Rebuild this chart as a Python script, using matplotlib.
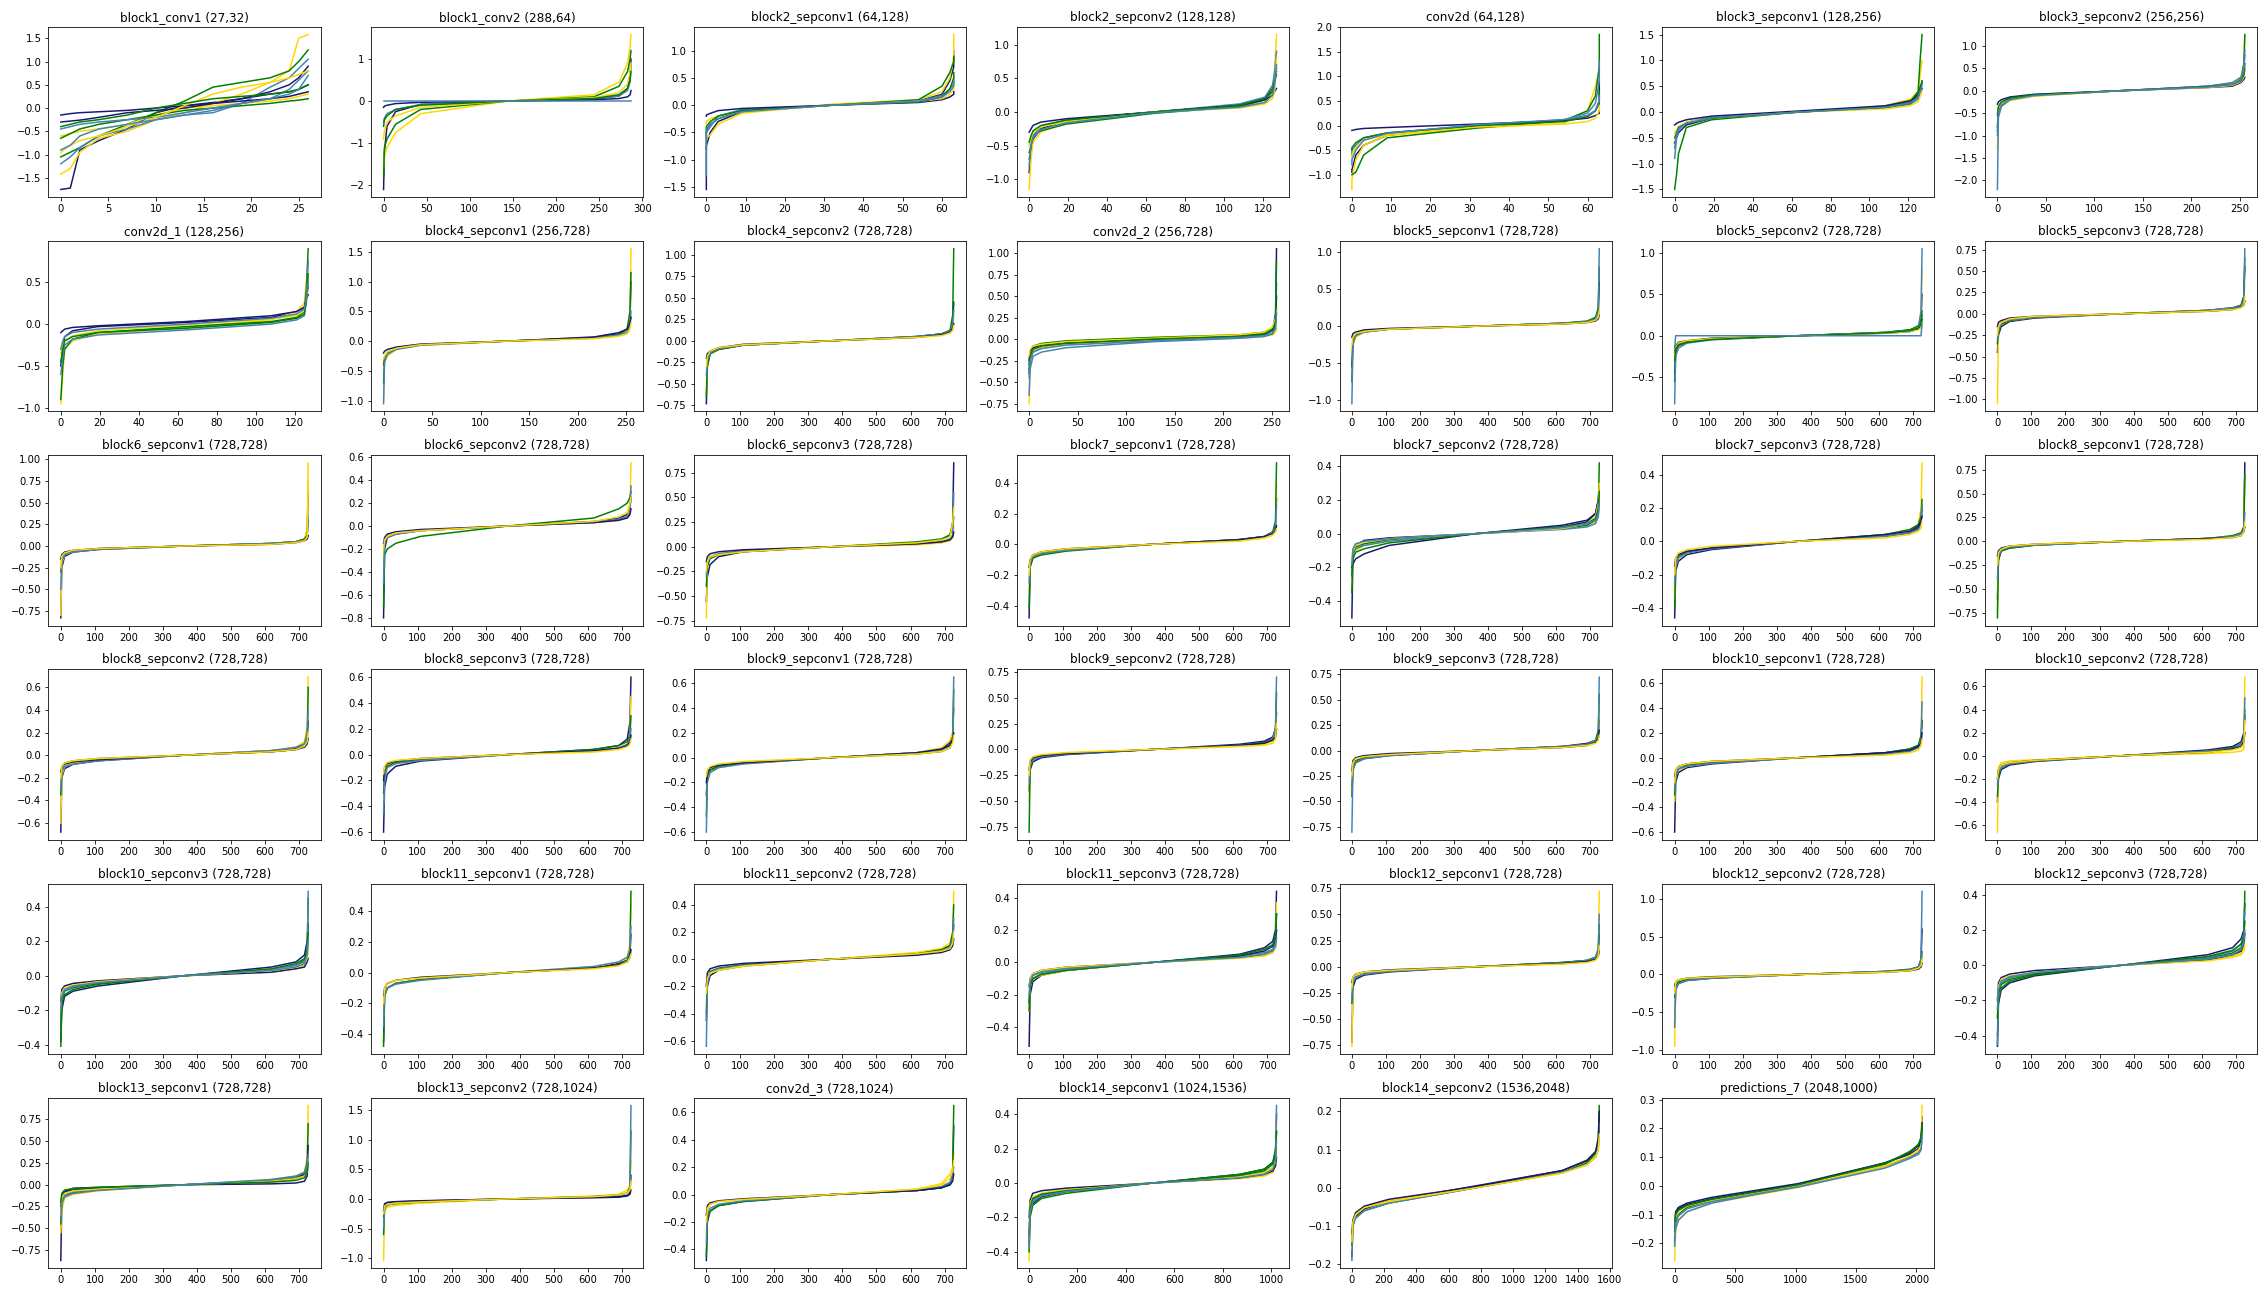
import numpy as np
import matplotlib
matplotlib.use("Agg")
import matplotlib.pyplot as plt

# sorted kernel values per output channel, sampled at a few ranks
# rank positions as a fraction of the input size
knot_frac = [0, 0.004, 0.015, 0.05, 0.15, 0.5, 0.85, 0.95, 0.985, 0.996, 1.0]
# block1_conv1 has only 27 inputs, so its knots are plain indices
conv1_knots = [0, 1, 2, 4, 7, 10, 13, 16, 19, 22, 24, 25, 26]

line_colors = ['midnightblue', 'gold', 'green', 'steelblue']

layer_names = [
    'block1_conv1', 'block1_conv2', 'block2_sepconv1', 'block2_sepconv2', 'conv2d',
    'block3_sepconv1', 'block3_sepconv2',
    'conv2d_1', 'block4_sepconv1', 'block4_sepconv2', 'conv2d_2', 'block5_sepconv1',
    'block5_sepconv2', 'block5_sepconv3',
    'block6_sepconv1', 'block6_sepconv2', 'block6_sepconv3', 'block7_sepconv1',
    'block7_sepconv2', 'block7_sepconv3', 'block8_sepconv1',
    'block8_sepconv2', 'block8_sepconv3', 'block9_sepconv1', 'block9_sepconv2',
    'block9_sepconv3', 'block10_sepconv1', 'block10_sepconv2',
    'block10_sepconv3', 'block11_sepconv1', 'block11_sepconv2', 'block11_sepconv3',
    'block12_sepconv1', 'block12_sepconv2', 'block12_sepconv3',
    'block13_sepconv1', 'block13_sepconv2', 'conv2d_3', 'block14_sepconv1',
    'block14_sepconv2', 'predictions_7',
]
layer_shapes = [
    (27, 32), (288, 64), (64, 128), (128, 128), (64, 128), (128, 256), (256, 256),
    (128, 256), (256, 728), (728, 728), (256, 728), (728, 728), (728, 728), (728, 728),
    (728, 728), (728, 728), (728, 728), (728, 728), (728, 728), (728, 728), (728, 728),
    (728, 728), (728, 728), (728, 728), (728, 728), (728, 728), (728, 728), (728, 728),
    (728, 728), (728, 728), (728, 728), (728, 728), (728, 728), (728, 728), (728, 728),
    (728, 728), (728, 1024), (728, 1024), (1024, 1536), (1536, 2048), (2048, 1000),
]

block1_conv1 = [
    [-1.75, -1.72, -0.9, -0.7, -0.45, -0.1, 0.05, 0.12, 0.2, 0.3, 0.35, 0.4, 0.5],
    [-1.42, -1.3, -0.95, -0.65, -0.5, -0.25, -0.1, 0.1, 0.3, 0.55, 0.8, 1.5, 1.58],
    [-1.05, -0.95, -0.85, -0.6, -0.35, -0.1, 0.15, 0.45, 0.55, 0.65, 0.8, 1.0, 1.25],
    [-1.2, -1.05, -0.85, -0.6, -0.45, -0.25, -0.15, -0.1, 0.1, 0.45, 0.65, 0.85, 1.05],
    [-0.15, -0.12, -0.1, -0.08, -0.05, 0.0, 0.05, 0.1, 0.15, 0.2, 0.25, 0.3, 0.35],
    [-0.6, -0.55, -0.5, -0.45, -0.35, -0.15, 0.0, 0.05, 0.1, 0.15, 0.2, 0.25, 0.3],
    [-0.65, -0.55, -0.45, -0.35, -0.25, -0.15, -0.05, 0.0, 0.05, 0.1, 0.15, 0.17, 0.2],
    [-0.45, -0.4, -0.35, -0.3, -0.25, -0.2, -0.1, 0.0, 0.1, 0.2, 0.4, 0.6, 0.8],
    [-0.3, -0.28, -0.26, -0.2, -0.1, -0.05, 0.0, 0.1, 0.2, 0.35, 0.5, 0.65, 0.9],
    [-0.95, -0.8, -0.7, -0.6, -0.4, -0.2, 0.05, 0.3, 0.45, 0.55, 0.65, 0.72, 0.8],
    [-0.4, -0.35, -0.3, -0.25, -0.15, 0.0, 0.1, 0.2, 0.25, 0.3, 0.35, 0.4, 0.5],
    [-0.9, -0.8, -0.6, -0.45, -0.35, -0.25, -0.15, -0.05, 0.1, 0.2, 0.3, 0.4, 0.7],
]
block1_conv2 = [
    [-2.1, -1.2, -0.6, -0.25, -0.08, 0.0, 0.05, 0.12, 0.3, 0.6, 1.0],
    [-1.6, -1.3, -1.1, -0.75, -0.3, 0.0, 0.15, 0.45, 0.9, 1.3, 1.58],
    [-1.8, -1.1, -0.9, -0.55, -0.2, 0.0, 0.1, 0.35, 0.7, 1.0, 1.2],
    [-0.5, -0.4, -0.3, -0.2, -0.08, 0.0, 0.05, 0.12, 0.25, 0.45, 0.9],
    [-0.15, -0.12, -0.1, -0.06, -0.03, 0.0, 0.03, 0.06, 0.1, 0.15, 0.25],
    [-0.9, -0.7, -0.5, -0.35, -0.15, 0.0, 0.08, 0.2, 0.4, 0.7, 0.9],
    [-0.6, -0.45, -0.35, -0.2, -0.1, 0.0, 0.06, 0.15, 0.3, 0.5, 0.7],
    [0.0, 0.0, 0.0, 0.0, 0.0, 0.0, 0.0, 0.0, 0.0, 0.0, 0.0],
]
block2_sepconv1 = [
    [-1.55, -0.75, -0.5, -0.3, -0.12, 0.0, 0.08, 0.2, 0.45, 0.7, 1.0],
    [-0.7, -0.6, -0.55, -0.35, -0.15, 0.02, 0.1, 0.25, 0.5, 0.9, 1.3],
    [-0.8, -0.5, -0.35, -0.25, -0.1, 0.0, 0.1, 0.35, 0.6, 0.8, 0.9],
    [-1.3, -0.5, -0.4, -0.2, -0.08, 0.0, 0.08, 0.18, 0.3, 0.4, 0.5],
    [-0.2, -0.18, -0.15, -0.1, -0.06, 0.0, 0.05, 0.1, 0.15, 0.2, 0.25],
    [-0.35, -0.3, -0.25, -0.2, -0.12, 0.0, 0.07, 0.12, 0.2, 0.3, 0.4],
    [-0.5, -0.4, -0.3, -0.2, -0.1, 0.0, 0.06, 0.15, 0.3, 0.5, 0.6],
    [-0.6, -0.45, -0.35, -0.25, -0.12, 0.0, 0.07, 0.15, 0.25, 0.35, 0.45],
]
block2_sepconv2 = [
    [-0.9, -0.55, -0.4, -0.25, -0.12, 0.0, 0.1, 0.2, 0.35, 0.5, 0.6],
    [-1.15, -0.7, -0.45, -0.3, -0.15, 0.0, 0.08, 0.15, 0.3, 0.6, 1.15],
    [-0.6, -0.5, -0.35, -0.28, -0.18, -0.02, 0.08, 0.18, 0.35, 0.5, 0.65],
    [-0.8, -0.45, -0.35, -0.22, -0.12, 0.0, 0.12, 0.22, 0.4, 0.6, 0.9],
    [-0.3, -0.25, -0.2, -0.15, -0.1, 0.0, 0.1, 0.18, 0.25, 0.3, 0.35],
    [-0.5, -0.4, -0.3, -0.22, -0.14, 0.0, 0.06, 0.12, 0.2, 0.3, 0.8],
    [-0.45, -0.35, -0.28, -0.2, -0.12, 0.0, 0.1, 0.2, 0.3, 0.45, 0.55],
    [-0.7, -0.5, -0.38, -0.26, -0.16, -0.01, 0.07, 0.14, 0.25, 0.4, 0.7],
]
conv2d = [
    [-0.95, -0.9, -0.6, -0.4, -0.2, 0.0, 0.1, 0.2, 0.3, 0.5, 0.9],
    [-1.3, -1.1, -0.7, -0.4, -0.2, -0.05, 0.05, 0.3, 0.8, 1.1, 1.2],
    [-1.0, -1.0, -0.95, -0.6, -0.25, -0.05, 0.1, 0.3, 0.6, 1.2, 1.85],
    [-0.6, -0.5, -0.4, -0.25, -0.15, 0.0, 0.12, 0.25, 0.45, 0.9, 1.3],
    [-0.1, -0.1, -0.08, -0.06, -0.04, 0.03, 0.1, 0.15, 0.2, 0.25, 0.3],
    [-0.7, -0.6, -0.45, -0.3, -0.18, -0.03, 0.03, 0.08, 0.15, 0.3, 0.55],
    [-0.5, -0.45, -0.35, -0.25, -0.15, 0.0, 0.08, 0.18, 0.3, 0.45, 0.7],
    [-0.8, -0.7, -0.5, -0.3, -0.16, 0.02, 0.12, 0.2, 0.3, 0.5, 0.6],
]
block3_sepconv1 = [
    [-0.6, -0.5, -0.4, -0.25, -0.12, 0.0, 0.1, 0.2, 0.35, 0.5, 0.55],
    [-0.55, -0.4, -0.3, -0.2, -0.1, 0.0, 0.12, 0.25, 0.4, 0.7, 1.0],
    [-1.5, -1.2, -0.8, -0.3, -0.15, 0.0, 0.1, 0.2, 0.4, 1.0, 1.5],
    [-0.9, -0.5, -0.35, -0.2, -0.1, 0.0, 0.08, 0.15, 0.25, 0.4, 0.6],
    [-0.25, -0.22, -0.2, -0.15, -0.08, 0.02, 0.12, 0.22, 0.3, 0.4, 0.45],
    [-0.4, -0.35, -0.28, -0.2, -0.12, 0.0, 0.06, 0.12, 0.2, 0.3, 0.4],
    [-0.5, -0.4, -0.3, -0.22, -0.12, 0.0, 0.09, 0.17, 0.3, 0.45, 0.6],
    [-0.7, -0.45, -0.32, -0.22, -0.11, 0.0, 0.09, 0.18, 0.28, 0.4, 0.5],
]
block3_sepconv2 = [
    [-0.8, -0.4, -0.3, -0.18, -0.1, 0.0, 0.1, 0.15, 0.25, 0.4, 0.6],
    [-1.3, -0.55, -0.35, -0.22, -0.12, 0.0, 0.08, 0.15, 0.3, 0.6, 1.2],
    [-0.9, -0.45, -0.3, -0.2, -0.1, 0.0, 0.08, 0.12, 0.25, 0.6, 1.25],
    [-2.2, -0.6, -0.35, -0.2, -0.1, 0.0, 0.1, 0.18, 0.3, 0.5, 0.9],
    [-0.3, -0.25, -0.2, -0.14, -0.08, 0.0, 0.07, 0.1, 0.18, 0.25, 0.3],
    [-0.5, -0.4, -0.3, -0.2, -0.12, 0.0, 0.07, 0.12, 0.2, 0.3, 0.45],
    [-0.55, -0.35, -0.25, -0.16, -0.09, 0.0, 0.09, 0.14, 0.22, 0.35, 0.5],
    [-1.0, -0.5, -0.32, -0.2, -0.11, 0.0, 0.08, 0.14, 0.24, 0.45, 0.8],
]
conv2d_1 = [
    [-0.5, -0.3, -0.15, -0.08, -0.03, 0.02, 0.08, 0.15, 0.2, 0.3, 0.45],
    [-0.95, -0.6, -0.3, -0.2, -0.12, -0.04, 0.05, 0.15, 0.25, 0.5, 0.7],
    [-0.9, -0.5, -0.3, -0.18, -0.1, -0.03, 0.03, 0.08, 0.15, 0.4, 0.9],
    [-0.6, -0.4, -0.25, -0.18, -0.13, -0.07, 0.0, 0.05, 0.1, 0.3, 0.75],
    [-0.1, -0.08, -0.06, -0.04, -0.02, 0.03, 0.1, 0.15, 0.2, 0.3, 0.35],
    [-0.35, -0.25, -0.2, -0.14, -0.08, -0.01, 0.06, 0.1, 0.16, 0.25, 0.55],
    [-0.45, -0.3, -0.2, -0.15, -0.1, -0.05, 0.02, 0.07, 0.12, 0.25, 0.6],
    [-0.3, -0.2, -0.15, -0.1, -0.06, 0.0, 0.07, 0.12, 0.18, 0.3, 0.5],
]
block4_sepconv1 = [
    [-0.4, -0.3, -0.2, -0.12, -0.06, 0.0, 0.06, 0.12, 0.2, 0.35, 1.0],
    [-1.0, -0.35, -0.25, -0.14, -0.07, 0.0, 0.05, 0.1, 0.18, 0.4, 1.55],
    [-0.7, -0.3, -0.2, -0.12, -0.06, 0.0, 0.05, 0.1, 0.2, 0.5, 1.15],
    [-1.05, -0.35, -0.22, -0.14, -0.07, 0.0, 0.05, 0.1, 0.15, 0.25, 0.5],
    [-0.2, -0.17, -0.14, -0.1, -0.05, 0.0, 0.07, 0.14, 0.2, 0.3, 0.4],
    [-0.3, -0.25, -0.18, -0.12, -0.06, 0.0, 0.04, 0.08, 0.12, 0.2, 0.3],
]
block4_sepconv2 = [
    [-0.73, -0.3, -0.15, -0.1, -0.05, 0.0, 0.05, 0.08, 0.12, 0.2, 0.45],
    [-0.6, -0.25, -0.14, -0.09, -0.05, 0.0, 0.04, 0.07, 0.1, 0.15, 0.3],
    [-0.65, -0.28, -0.15, -0.1, -0.05, 0.0, 0.05, 0.08, 0.12, 0.3, 1.07],
    [-0.4, -0.22, -0.14, -0.09, -0.05, 0.0, 0.05, 0.08, 0.12, 0.2, 0.35],
    [-0.2, -0.15, -0.12, -0.08, -0.04, 0.0, 0.04, 0.07, 0.1, 0.15, 0.2],
    [-0.3, -0.18, -0.12, -0.08, -0.045, 0.0, 0.04, 0.06, 0.09, 0.12, 0.18],
]
conv2d_2 = [
    [-0.4, -0.25, -0.15, -0.1, -0.06, -0.02, 0.02, 0.05, 0.1, 0.3, 1.05],
    [-0.75, -0.3, -0.15, -0.1, -0.06, -0.01, 0.01, 0.03, 0.05, 0.08, 0.12],
    [-0.3, -0.15, -0.08, -0.05, -0.02, 0.02, 0.05, 0.08, 0.12, 0.2, 0.35],
    [-0.65, -0.35, -0.2, -0.15, -0.1, -0.03, 0.01, 0.03, 0.06, 0.15, 0.65],
    [-0.25, -0.15, -0.1, -0.07, -0.04, 0.0, 0.04, 0.06, 0.1, 0.2, 0.5],
    [-0.2, -0.12, -0.08, -0.06, -0.03, 0.01, 0.05, 0.08, 0.14, 0.25, 0.35],
    [-0.35, -0.2, -0.12, -0.08, -0.05, 0.0, 0.03, 0.06, 0.1, 0.2, 0.9],
    [-0.45, -0.25, -0.15, -0.11, -0.07, -0.02, 0.02, 0.04, 0.07, 0.12, 0.3],
]
block5_sepconv1 = [
    [-0.55, -0.2, -0.12, -0.08, -0.04, 0.0, 0.04, 0.06, 0.1, 0.2, 0.6],
    [-0.35, -0.25, -0.15, -0.08, -0.04, 0.0, 0.03, 0.05, 0.08, 0.15, 0.3],
    [-0.75, -0.2, -0.1, -0.07, -0.04, 0.0, 0.04, 0.07, 0.12, 0.25, 0.8],
    [-1.05, -0.25, -0.13, -0.08, -0.04, 0.0, 0.04, 0.06, 0.1, 0.2, 1.05],
    [-0.15, -0.1, -0.08, -0.05, -0.03, 0.0, 0.03, 0.05, 0.07, 0.1, 0.15],
    [-0.25, -0.15, -0.1, -0.07, -0.04, 0.0, 0.03, 0.05, 0.08, 0.12, 0.2],
]
block5_sepconv2 = [
    [-0.45, -0.2, -0.12, -0.08, -0.04, 0.0, 0.04, 0.07, 0.1, 0.2, 0.5],
    [-0.3, -0.15, -0.1, -0.07, -0.04, 0.0, 0.04, 0.06, 0.1, 0.2, 0.8],
    [-0.55, -0.18, -0.1, -0.07, -0.04, 0.0, 0.04, 0.07, 0.12, 0.2, 0.3],
    [-0.82, -0.25, -0.15, -0.09, -0.05, 0.0, 0.04, 0.06, 0.1, 0.3, 1.05],
    [-0.2, -0.12, -0.08, -0.06, -0.03, 0.0, 0.03, 0.05, 0.08, 0.12, 0.2],
    [-0.25, -0.14, -0.09, -0.06, -0.035, 0.0, 0.03, 0.05, 0.07, 0.1, 0.15],
    [-0.3, -0.16, -0.11, -0.08, -0.045, 0.0, 0.035, 0.06, 0.09, 0.15, 0.25],
    [-0.15, 0.0, 0.0, 0.0, 0.0, 0.0, 0.0, 0.0, 0.0, 0.0, 0.15],
]
block5_sepconv3 = [
    [-0.45, -0.25, -0.15, -0.09, -0.05, 0.0, 0.04, 0.07, 0.1, 0.2, 0.55],
    [-1.05, -0.2, -0.12, -0.08, -0.04, 0.0, 0.03, 0.05, 0.08, 0.15, 0.35],
    [-0.35, -0.2, -0.12, -0.08, -0.04, 0.0, 0.04, 0.06, 0.1, 0.2, 0.65],
    [-0.3, -0.18, -0.1, -0.07, -0.04, 0.0, 0.04, 0.07, 0.1, 0.15, 0.76],
    [-0.15, -0.1, -0.08, -0.05, -0.03, 0.0, 0.03, 0.05, 0.08, 0.1, 0.15],
    [-0.25, -0.15, -0.1, -0.06, -0.03, 0.0, 0.03, 0.05, 0.07, 0.1, 0.2],
]
block6_sepconv1 = [
    [-0.83, -0.25, -0.12, -0.07, -0.04, 0.0, 0.03, 0.05, 0.08, 0.15, 0.65],
    [-0.8, -0.2, -0.1, -0.06, -0.03, 0.0, 0.03, 0.05, 0.08, 0.2, 0.96],
    [-0.3, -0.15, -0.09, -0.06, -0.03, 0.0, 0.03, 0.05, 0.08, 0.12, 0.3],
    [-0.5, -0.18, -0.1, -0.07, -0.04, 0.0, 0.03, 0.05, 0.07, 0.1, 0.35],
    [-0.15, -0.1, -0.07, -0.05, -0.03, 0.0, 0.02, 0.04, 0.06, 0.08, 0.12],
    [-0.25, -0.12, -0.08, -0.05, -0.03, 0.0, 0.02, 0.04, 0.06, 0.1, 0.75],
]
block6_sepconv2 = [
    [-0.8, -0.2, -0.1, -0.07, -0.04, 0.0, 0.04, 0.07, 0.1, 0.15, 0.25],
    [-0.3, -0.12, -0.08, -0.06, -0.04, 0.0, 0.03, 0.05, 0.08, 0.15, 0.55],
    [-0.7, -0.25, -0.2, -0.15, -0.09, 0.0, 0.07, 0.15, 0.2, 0.25, 0.3],
    [-0.5, -0.15, -0.1, -0.07, -0.04, 0.0, 0.03, 0.06, 0.08, 0.12, 0.35],
    [-0.15, -0.1, -0.07, -0.05, -0.03, 0.0, 0.03, 0.05, 0.07, 0.1, 0.15],
    [-0.2, -0.12, -0.09, -0.06, -0.04, 0.0, 0.04, 0.08, 0.12, 0.2, 0.25],
]
block6_sepconv3 = [
    [-0.55, -0.3, -0.18, -0.1, -0.05, 0.0, 0.04, 0.07, 0.12, 0.25, 0.85],
    [-0.72, -0.2, -0.1, -0.07, -0.04, 0.0, 0.02, 0.04, 0.06, 0.1, 0.2],
    [-0.4, -0.2, -0.12, -0.08, -0.05, 0.0, 0.05, 0.08, 0.12, 0.2, 0.3],
    [-0.3, -0.15, -0.1, -0.07, -0.04, 0.0, 0.03, 0.05, 0.08, 0.12, 0.55],
    [-0.15, -0.1, -0.07, -0.05, -0.03, 0.0, 0.03, 0.05, 0.07, 0.1, 0.15],
    [-0.25, -0.15, -0.1, -0.08, -0.05, 0.0, 0.04, 0.07, 0.1, 0.25, 0.4],
]
block7_sepconv1 = [
    [-0.48, -0.15, -0.09, -0.06, -0.04, 0.0, 0.03, 0.05, 0.08, 0.12, 0.3],
    [-0.3, -0.12, -0.08, -0.06, -0.035, 0.0, 0.025, 0.04, 0.06, 0.1, 0.4],
    [-0.42, -0.14, -0.09, -0.07, -0.045, 0.0, 0.03, 0.05, 0.08, 0.15, 0.53],
    [-0.25, -0.12, -0.08, -0.06, -0.04, 0.0, 0.03, 0.05, 0.08, 0.1, 0.25],
    [-0.15, -0.1, -0.07, -0.05, -0.03, 0.0, 0.03, 0.05, 0.07, 0.09, 0.12],
    [-0.2, -0.1, -0.07, -0.05, -0.03, 0.0, 0.02, 0.04, 0.06, 0.08, 0.1],
]
block7_sepconv2 = [
    [-0.5, -0.12, -0.07, -0.04, -0.025, 0.0, 0.04, 0.07, 0.12, 0.2, 0.3],
    [-0.3, -0.15, -0.1, -0.07, -0.04, 0.0, 0.03, 0.05, 0.07, 0.1, 0.2],
    [-0.35, -0.12, -0.08, -0.06, -0.035, 0.0, 0.03, 0.05, 0.08, 0.12, 0.42],
    [-0.25, -0.12, -0.09, -0.07, -0.045, 0.0, 0.025, 0.04, 0.06, 0.1, 0.2],
    [-0.2, -0.18, -0.15, -0.12, -0.07, 0.0, 0.05, 0.08, 0.12, 0.2, 0.25],
    [-0.15, -0.1, -0.07, -0.05, -0.03, 0.0, 0.03, 0.06, 0.1, 0.18, 0.3],
    [-0.25, -0.15, -0.11, -0.09, -0.055, 0.0, 0.04, 0.06, 0.09, 0.15, 0.25],
    [-0.18, -0.09, -0.06, -0.045, -0.03, 0.0, 0.035, 0.06, 0.08, 0.12, 0.18],
]
block7_sepconv3 = [
    [-0.46, -0.18, -0.12, -0.08, -0.05, 0.0, 0.03, 0.05, 0.08, 0.12, 0.2],
    [-0.35, -0.15, -0.1, -0.07, -0.04, 0.0, 0.04, 0.07, 0.1, 0.2, 0.47],
    [-0.4, -0.14, -0.09, -0.065, -0.04, 0.0, 0.04, 0.07, 0.1, 0.15, 0.25],
    [-0.25, -0.14, -0.1, -0.07, -0.045, 0.0, 0.03, 0.05, 0.07, 0.1, 0.22],
    [-0.15, -0.1, -0.08, -0.06, -0.04, 0.0, 0.04, 0.06, 0.09, 0.12, 0.15],
    [-0.2, -0.1, -0.07, -0.05, -0.03, 0.0, 0.02, 0.04, 0.06, 0.08, 0.12],
]
block8_sepconv1 = [
    [-0.6, -0.2, -0.1, -0.07, -0.04, 0.0, 0.03, 0.05, 0.08, 0.15, 0.82],
    [-0.72, -0.15, -0.09, -0.06, -0.035, 0.0, 0.03, 0.05, 0.07, 0.12, 0.6],
    [-0.8, -0.18, -0.1, -0.07, -0.04, 0.0, 0.03, 0.06, 0.09, 0.15, 0.7],
    [-0.4, -0.15, -0.09, -0.06, -0.04, 0.0, 0.03, 0.05, 0.08, 0.12, 0.3],
    [-0.15, -0.1, -0.07, -0.05, -0.03, 0.0, 0.03, 0.04, 0.06, 0.1, 0.15],
    [-0.25, -0.12, -0.08, -0.05, -0.03, 0.0, 0.02, 0.04, 0.06, 0.1, 0.2],
]
block8_sepconv2 = [
    [-0.68, -0.2, -0.12, -0.08, -0.05, 0.0, 0.04, 0.06, 0.1, 0.15, 0.3],
    [-0.6, -0.18, -0.1, -0.07, -0.04, 0.0, 0.04, 0.07, 0.12, 0.25, 0.69],
    [-0.35, -0.12, -0.07, -0.05, -0.03, 0.0, 0.03, 0.05, 0.08, 0.12, 0.6],
    [-0.3, -0.15, -0.1, -0.08, -0.05, 0.0, 0.04, 0.07, 0.1, 0.2, 0.4],
    [-0.15, -0.1, -0.08, -0.06, -0.04, 0.0, 0.03, 0.05, 0.07, 0.1, 0.15],
    [-0.2, -0.1, -0.07, -0.05, -0.03, 0.0, 0.03, 0.05, 0.08, 0.12, 0.2],
]
block8_sepconv3 = [
    [-0.6, -0.25, -0.15, -0.09, -0.05, 0.0, 0.04, 0.07, 0.12, 0.25, 0.6],
    [-0.38, -0.15, -0.08, -0.06, -0.035, 0.0, 0.03, 0.05, 0.07, 0.12, 0.45],
    [-0.3, -0.14, -0.09, -0.06, -0.04, 0.0, 0.04, 0.07, 0.1, 0.15, 0.3],
    [-0.45, -0.18, -0.1, -0.07, -0.045, 0.0, 0.03, 0.05, 0.08, 0.12, 0.2],
    [-0.2, -0.1, -0.07, -0.05, -0.03, 0.0, 0.03, 0.05, 0.07, 0.1, 0.15],
    [-0.15, -0.09, -0.06, -0.045, -0.03, 0.0, 0.02, 0.04, 0.06, 0.08, 0.12],
]
block9_sepconv1 = [
    [-0.3, -0.15, -0.1, -0.07, -0.045, 0.0, 0.04, 0.07, 0.12, 0.2, 0.4],
    [-0.35, -0.18, -0.12, -0.08, -0.05, 0.0, 0.04, 0.08, 0.14, 0.2, 0.45],
    [-0.47, -0.15, -0.1, -0.07, -0.045, 0.0, 0.03, 0.05, 0.08, 0.15, 0.55],
    [-0.6, -0.2, -0.12, -0.08, -0.05, 0.0, 0.04, 0.06, 0.1, 0.15, 0.65],
    [-0.2, -0.12, -0.08, -0.06, -0.04, 0.0, 0.04, 0.07, 0.1, 0.15, 0.2],
    [-0.15, -0.1, -0.07, -0.05, -0.03, 0.0, 0.03, 0.05, 0.08, 0.12, 0.18],
]
block9_sepconv2 = [
    [-0.4, -0.2, -0.12, -0.08, -0.05, 0.0, 0.05, 0.08, 0.12, 0.2, 0.35],
    [-0.5, -0.15, -0.08, -0.06, -0.035, 0.0, 0.03, 0.05, 0.08, 0.15, 0.45],
    [-0.8, -0.18, -0.1, -0.07, -0.045, 0.0, 0.04, 0.07, 0.1, 0.2, 0.55],
    [-0.3, -0.15, -0.1, -0.07, -0.045, 0.0, 0.04, 0.06, 0.1, 0.2, 0.7],
    [-0.2, -0.12, -0.08, -0.06, -0.04, 0.0, 0.04, 0.06, 0.09, 0.12, 0.2],
    [-0.25, -0.1, -0.07, -0.05, -0.03, 0.0, 0.03, 0.04, 0.06, 0.1, 0.25],
]
block9_sepconv3 = [
    [-0.35, -0.18, -0.12, -0.08, -0.05, 0.0, 0.04, 0.07, 0.1, 0.15, 0.3],
    [-0.4, -0.15, -0.1, -0.07, -0.04, 0.0, 0.03, 0.05, 0.08, 0.15, 0.4],
    [-0.45, -0.18, -0.1, -0.07, -0.045, 0.0, 0.04, 0.06, 0.1, 0.2, 0.55],
    [-0.8, -0.2, -0.12, -0.08, -0.05, 0.0, 0.04, 0.06, 0.1, 0.15, 0.72],
    [-0.2, -0.1, -0.07, -0.05, -0.03, 0.0, 0.03, 0.05, 0.08, 0.12, 0.2],
    [-0.25, -0.12, -0.08, -0.06, -0.04, 0.0, 0.03, 0.05, 0.07, 0.1, 0.15],
]
block10_sepconv1 = [
    [-0.6, -0.2, -0.12, -0.08, -0.05, 0.0, 0.04, 0.07, 0.1, 0.15, 0.3],
    [-0.35, -0.15, -0.1, -0.07, -0.04, 0.0, 0.03, 0.06, 0.09, 0.15, 0.65],
    [-0.3, -0.15, -0.09, -0.06, -0.04, 0.0, 0.04, 0.07, 0.1, 0.18, 0.3],
    [-0.25, -0.14, -0.09, -0.07, -0.045, 0.0, 0.03, 0.05, 0.08, 0.15, 0.45],
    [-0.15, -0.1, -0.07, -0.05, -0.03, 0.0, 0.04, 0.06, 0.09, 0.12, 0.2],
    [-0.2, -0.1, -0.07, -0.05, -0.03, 0.0, 0.02, 0.04, 0.06, 0.1, 0.15],
]
block10_sepconv2 = [
    [-0.4, -0.2, -0.12, -0.08, -0.05, 0.0, 0.05, 0.08, 0.12, 0.2, 0.35],
    [-0.66, -0.1, -0.06, -0.045, -0.035, 0.0, 0.02, 0.03, 0.04, 0.06, 0.68],
    [-0.35, -0.18, -0.1, -0.07, -0.045, 0.0, 0.04, 0.07, 0.1, 0.15, 0.4],
    [-0.25, -0.15, -0.1, -0.07, -0.045, 0.0, 0.04, 0.06, 0.1, 0.15, 0.5],
    [-0.2, -0.12, -0.08, -0.06, -0.04, 0.0, 0.03, 0.06, 0.08, 0.12, 0.2],
    [-0.2, -0.12, -0.08, -0.06, -0.04, 0.0, 0.03, 0.05, 0.07, 0.1, 0.3],
]
block10_sepconv3 = [
    [-0.38, -0.2, -0.12, -0.09, -0.06, 0.0, 0.05, 0.08, 0.12, 0.2, 0.3],
    [-0.25, -0.1, -0.06, -0.045, -0.03, 0.0, 0.02, 0.04, 0.06, 0.1, 0.2],
    [-0.41, -0.14, -0.09, -0.07, -0.045, 0.0, 0.035, 0.06, 0.09, 0.15, 0.45],
    [-0.3, -0.13, -0.09, -0.065, -0.04, 0.0, 0.035, 0.06, 0.08, 0.12, 0.49],
    [-0.15, -0.08, -0.06, -0.045, -0.03, 0.0, 0.02, 0.04, 0.05, 0.08, 0.1],
    [-0.2, -0.1, -0.07, -0.055, -0.035, 0.0, 0.03, 0.05, 0.07, 0.1, 0.15],
    [-0.3, -0.16, -0.11, -0.08, -0.05, 0.0, 0.04, 0.07, 0.1, 0.15, 0.25],
    [-0.2, -0.12, -0.08, -0.06, -0.04, 0.0, 0.03, 0.05, 0.07, 0.12, 0.2],
]
block11_sepconv1 = [
    [-0.45, -0.15, -0.1, -0.07, -0.045, 0.0, 0.03, 0.06, 0.08, 0.12, 0.25],
    [-0.3, -0.15, -0.1, -0.07, -0.045, 0.0, 0.04, 0.07, 0.1, 0.2, 0.45],
    [-0.48, -0.15, -0.1, -0.07, -0.045, 0.0, 0.03, 0.05, 0.08, 0.15, 0.53],
    [-0.35, -0.15, -0.1, -0.075, -0.05, 0.0, 0.04, 0.07, 0.1, 0.15, 0.3],
    [-0.15, -0.1, -0.07, -0.05, -0.03, 0.0, 0.03, 0.05, 0.07, 0.1, 0.15],
    [-0.2, -0.1, -0.07, -0.05, -0.035, 0.0, 0.025, 0.045, 0.07, 0.1, 0.12],
]
block11_sepconv2 = [
    [-0.45, -0.2, -0.12, -0.08, -0.05, 0.0, 0.04, 0.07, 0.1, 0.15, 0.25],
    [-0.35, -0.15, -0.1, -0.08, -0.05, 0.0, 0.05, 0.08, 0.12, 0.2, 0.5],
    [-0.4, -0.15, -0.09, -0.065, -0.04, 0.0, 0.04, 0.07, 0.1, 0.2, 0.4],
    [-0.64, -0.18, -0.1, -0.07, -0.045, 0.0, 0.035, 0.06, 0.09, 0.15, 0.3],
    [-0.2, -0.1, -0.07, -0.05, -0.03, 0.0, 0.03, 0.05, 0.07, 0.1, 0.15],
    [-0.25, -0.14, -0.1, -0.08, -0.05, 0.0, 0.04, 0.06, 0.08, 0.12, 0.2],
]
block11_sepconv3 = [
    [-0.52, -0.2, -0.12, -0.08, -0.05, 0.0, 0.05, 0.09, 0.13, 0.2, 0.44],
    [-0.3, -0.15, -0.1, -0.08, -0.05, 0.0, 0.03, 0.04, 0.06, 0.1, 0.37],
    [-0.3, -0.12, -0.08, -0.06, -0.04, 0.0, 0.03, 0.05, 0.08, 0.12, 0.3],
    [-0.25, -0.14, -0.1, -0.07, -0.045, 0.0, 0.04, 0.06, 0.08, 0.12, 0.2],
    [-0.15, -0.1, -0.07, -0.05, -0.03, 0.0, 0.04, 0.07, 0.1, 0.15, 0.2],
    [-0.2, -0.1, -0.07, -0.05, -0.03, 0.0, 0.025, 0.04, 0.06, 0.09, 0.12],
    [-0.25, -0.15, -0.1, -0.075, -0.05, 0.0, 0.045, 0.08, 0.11, 0.16, 0.3],
    [-0.2, -0.12, -0.08, -0.06, -0.04, 0.0, 0.03, 0.05, 0.07, 0.1, 0.15],
]
block12_sepconv1 = [
    [-0.72, -0.2, -0.12, -0.08, -0.05, 0.0, 0.04, 0.06, 0.09, 0.15, 0.3],
    [-0.76, -0.15, -0.09, -0.07, -0.04, 0.0, 0.03, 0.05, 0.08, 0.15, 0.72],
    [-0.35, -0.15, -0.1, -0.07, -0.045, 0.0, 0.04, 0.06, 0.09, 0.15, 0.4],
    [-0.3, -0.15, -0.1, -0.07, -0.045, 0.0, 0.035, 0.06, 0.09, 0.18, 0.5],
    [-0.15, -0.1, -0.07, -0.05, -0.03, 0.0, 0.03, 0.05, 0.07, 0.1, 0.15],
    [-0.2, -0.1, -0.07, -0.05, -0.035, 0.0, 0.025, 0.04, 0.06, 0.1, 0.2],
]
block12_sepconv2 = [
    [-0.65, -0.2, -0.12, -0.08, -0.05, 0.0, 0.04, 0.06, 0.1, 0.2, 0.6],
    [-0.95, -0.15, -0.09, -0.07, -0.045, 0.0, 0.03, 0.05, 0.08, 0.12, 0.25],
    [-0.3, -0.15, -0.1, -0.07, -0.045, 0.0, 0.04, 0.07, 0.1, 0.15, 0.3],
    [-0.7, -0.2, -0.12, -0.08, -0.05, 0.0, 0.04, 0.06, 0.1, 0.2, 1.1],
    [-0.15, -0.1, -0.07, -0.05, -0.03, 0.0, 0.03, 0.05, 0.07, 0.1, 0.15],
    [-0.25, -0.1, -0.07, -0.05, -0.035, 0.0, 0.03, 0.05, 0.08, 0.12, 0.2],
]
block12_sepconv3 = [
    [-0.46, -0.22, -0.14, -0.1, -0.06, 0.0, 0.06, 0.1, 0.15, 0.2, 0.35],
    [-0.3, -0.15, -0.1, -0.07, -0.045, 0.0, 0.03, 0.05, 0.07, 0.1, 0.15],
    [-0.4, -0.2, -0.13, -0.09, -0.055, 0.0, 0.04, 0.07, 0.1, 0.15, 0.42],
    [-0.45, -0.18, -0.1, -0.07, -0.045, 0.0, 0.045, 0.08, 0.12, 0.18, 0.3],
    [-0.2, -0.1, -0.07, -0.05, -0.03, 0.0, 0.03, 0.06, 0.08, 0.12, 0.18],
    [-0.25, -0.12, -0.08, -0.06, -0.04, 0.0, 0.025, 0.045, 0.06, 0.08, 0.12],
    [-0.3, -0.16, -0.11, -0.08, -0.05, 0.0, 0.05, 0.085, 0.12, 0.16, 0.25],
    [-0.25, -0.14, -0.09, -0.065, -0.04, 0.0, 0.035, 0.06, 0.09, 0.13, 0.2],
]
block13_sepconv1 = [
    [-0.87, -0.2, -0.08, -0.04, -0.03, 0.0, 0.01, 0.02, 0.04, 0.1, 0.3],
    [-0.55, -0.3, -0.15, -0.11, -0.07, 0.0, 0.06, 0.1, 0.15, 0.3, 0.91],
    [-0.45, -0.2, -0.12, -0.09, -0.06, 0.0, 0.05, 0.09, 0.14, 0.25, 0.7],
    [-0.3, -0.18, -0.12, -0.08, -0.05, 0.0, 0.05, 0.08, 0.12, 0.2, 0.3],
    [-0.25, -0.12, -0.08, -0.06, -0.04, 0.0, 0.04, 0.07, 0.12, 0.2, 0.45],
    [-0.35, -0.15, -0.1, -0.07, -0.05, 0.0, 0.04, 0.07, 0.1, 0.15, 0.3],
    [-0.2, -0.1, -0.06, -0.045, -0.03, 0.0, 0.03, 0.05, 0.08, 0.15, 0.25],
    [-0.4, -0.22, -0.14, -0.1, -0.065, 0.0, 0.06, 0.1, 0.14, 0.22, 0.35],
]
block13_sepconv2 = [
    [-0.3, -0.1, -0.06, -0.05, -0.035, 0.0, 0.03, 0.04, 0.06, 0.1, 0.4],
    [-1.04, -0.2, -0.14, -0.11, -0.07, 0.0, 0.05, 0.08, 0.15, 0.25, 0.65],
    [-0.6, -0.15, -0.1, -0.08, -0.05, 0.0, 0.04, 0.06, 0.1, 0.15, 1.15],
    [-0.5, -0.15, -0.1, -0.07, -0.05, 0.0, 0.04, 0.07, 0.1, 0.2, 1.58],
    [-0.2, -0.08, -0.06, -0.045, -0.03, 0.0, 0.02, 0.03, 0.05, 0.08, 0.15],
    [-0.25, -0.12, -0.09, -0.07, -0.05, 0.0, 0.04, 0.07, 0.1, 0.15, 0.3],
]
conv2d_3 = [
    [-0.48, -0.2, -0.12, -0.08, -0.05, 0.0, 0.03, 0.05, 0.08, 0.15, 0.5],
    [-0.3, -0.12, -0.07, -0.05, -0.035, 0.0, 0.04, 0.08, 0.15, 0.2, 0.3],
    [-0.45, -0.18, -0.12, -0.08, -0.05, 0.0, 0.03, 0.05, 0.08, 0.15, 0.65],
    [-0.35, -0.15, -0.1, -0.07, -0.045, 0.0, 0.035, 0.06, 0.09, 0.14, 0.2],
    [-0.15, -0.08, -0.06, -0.045, -0.03, 0.0, 0.03, 0.05, 0.07, 0.1, 0.15],
    [-0.2, -0.1, -0.07, -0.05, -0.035, 0.0, 0.04, 0.07, 0.12, 0.18, 0.25],
]
block14_sepconv1 = [
    [-0.35, -0.18, -0.12, -0.08, -0.05, 0.0, 0.05, 0.08, 0.12, 0.18, 0.4],
    [-0.45, -0.15, -0.09, -0.06, -0.035, 0.0, 0.025, 0.04, 0.06, 0.1, 0.37],
    [-0.4, -0.2, -0.13, -0.09, -0.06, 0.0, 0.05, 0.08, 0.12, 0.2, 0.3],
    [-0.38, -0.16, -0.1, -0.07, -0.045, 0.0, 0.04, 0.06, 0.09, 0.15, 0.45],
    [-0.2, -0.1, -0.06, -0.045, -0.03, 0.0, 0.03, 0.05, 0.07, 0.1, 0.15],
    [-0.25, -0.12, -0.08, -0.06, -0.04, 0.0, 0.035, 0.06, 0.09, 0.14, 0.2],
    [-0.3, -0.14, -0.09, -0.065, -0.045, 0.0, 0.045, 0.07, 0.11, 0.16, 0.3],
    [-0.3, -0.17, -0.11, -0.075, -0.05, 0.0, 0.03, 0.05, 0.08, 0.12, 0.25],
]
block14_sepconv2 = [
    [-0.18, -0.1, -0.075, -0.055, -0.035, 0.005, 0.045, 0.07, 0.09, 0.12, 0.19],
    [-0.16, -0.09, -0.07, -0.05, -0.033, 0.0, 0.04, 0.065, 0.085, 0.11, 0.17],
    [-0.15, -0.095, -0.075, -0.06, -0.04, 0.0, 0.04, 0.065, 0.09, 0.12, 0.215],
    [-0.19, -0.1, -0.08, -0.06, -0.04, 0.0, 0.04, 0.06, 0.08, 0.1, 0.15],
    [-0.12, -0.085, -0.065, -0.048, -0.03, 0.003, 0.045, 0.072, 0.095, 0.13, 0.2],
    [-0.14, -0.09, -0.07, -0.052, -0.036, 0.0, 0.038, 0.06, 0.08, 0.1, 0.14],
]
predictions_7 = [
    [-0.2, -0.1, -0.08, -0.065, -0.045, 0.005, 0.08, 0.11, 0.13, 0.15, 0.24],
    [-0.26, -0.15, -0.12, -0.09, -0.06, -0.005, 0.065, 0.1, 0.12, 0.14, 0.28],
    [-0.18, -0.12, -0.1, -0.075, -0.05, 0.0, 0.075, 0.12, 0.14, 0.16, 0.2],
    [-0.21, -0.15, -0.12, -0.09, -0.06, 0.0, 0.07, 0.1, 0.115, 0.13, 0.18],
    [-0.14, -0.09, -0.075, -0.06, -0.04, 0.008, 0.08, 0.115, 0.14, 0.16, 0.22],
    [-0.17, -0.11, -0.09, -0.07, -0.05, 0.002, 0.07, 0.105, 0.125, 0.14, 0.16],
    [-0.16, -0.1, -0.085, -0.068, -0.047, 0.004, 0.078, 0.118, 0.145, 0.17, 0.21],
    [-0.19, -0.13, -0.105, -0.08, -0.055, -0.004, 0.062, 0.095, 0.11, 0.125, 0.17],
]

layer_values = [
    block1_conv1, block1_conv2, block2_sepconv1, block2_sepconv2, conv2d,
    block3_sepconv1, block3_sepconv2,
    conv2d_1, block4_sepconv1, block4_sepconv2, conv2d_2, block5_sepconv1,
    block5_sepconv2, block5_sepconv3,
    block6_sepconv1, block6_sepconv2, block6_sepconv3, block7_sepconv1,
    block7_sepconv2, block7_sepconv3, block8_sepconv1,
    block8_sepconv2, block8_sepconv3, block9_sepconv1, block9_sepconv2,
    block9_sepconv3, block10_sepconv1, block10_sepconv2,
    block10_sepconv3, block11_sepconv1, block11_sepconv2, block11_sepconv3,
    block12_sepconv1, block12_sepconv2, block12_sepconv3,
    block13_sepconv1, block13_sepconv2, conv2d_3, block14_sepconv1,
    block14_sepconv2, predictions_7,
]


fig, axes = plt.subplots(6, 7, figsize=(31.5, 18), dpi=72)
axes = axes.ravel()

for ax, name, shape, lines in zip(axes, layer_names, layer_shapes, layer_values):
    n = shape[0]
    if len(lines[0]) == len(conv1_knots):
        xs = np.array(conv1_knots)
    else:
        xs = np.round(np.array(knot_frac) * (n - 1))
    for i, ys in enumerate(lines):
        ax.plot(xs, ys, color=line_colors[i % len(line_colors)])
    ax.set_title(f"{name} ({shape[0]},{shape[1]})")

for ax in axes[len(layer_names):]:
    ax.axis('off')

plt.tight_layout()
plt.savefig('out.png', dpi=72)
